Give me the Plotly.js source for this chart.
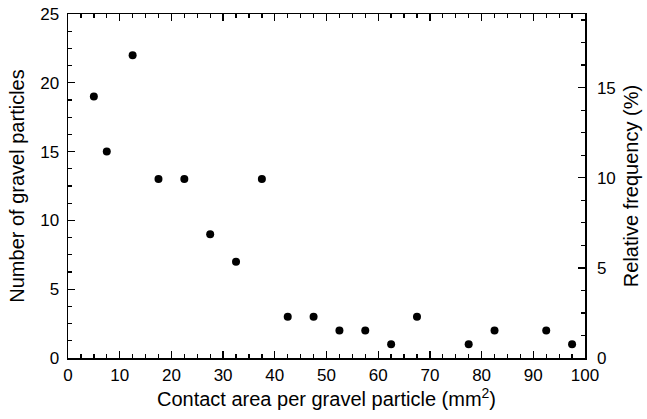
<!DOCTYPE html>
<html><head><meta charset="utf-8">
<script src="https://cdn.plot.ly/plotly-3.0.1.min.js"></script>
<style>html,body{margin:0;padding:0;background:#fff}#chart{width:647px;height:419px}</style>
</head><body><div id="chart"></div>
<script>
const contactArea = [5, 7.5, 12.5, 17.5, 22.5, 27.5, 32.5, 37.5, 42.5, 47.5, 52.5, 57.5, 62.5, 67.5, 77.5, 82.5, 92.5, 97.5];
const particleCount = [19, 15, 22, 13, 13, 9, 7, 13, 3, 3, 2, 2, 1, 3, 1, 2, 2, 1];
const xTickVals = [0, 10, 20, 30, 40, 50, 60, 70, 80, 90, 100];
const yTickVals = [0, 5, 10, 15, 20, 25];
const y2TickVals = [0, 5, 10, 15];

const total = particleCount.reduce((a, b) => a + b, 0);
const xMax = 100;
const yMax = 25;
const y2Max = yMax * 100 / total;

const fam = '"Liberation Sans", Arial, sans-serif';
const tickFont = {family: fam, size: 17, color: '#000'};
const titleFont = {family: fam, size: 20, color: '#000'};

const minorX = {dtick: 2.5, tick0: 0, ticks: 'inside', ticklen: 4, tickwidth: 1.3, tickcolor: '#000', showgrid: false};
const minorY = {dtick: 1.25, tick0: 0, ticks: 'inside', ticklen: 4, tickwidth: 1.3, tickcolor: '#000', showgrid: false};

const trace = {
  x: contactArea, y: particleCount, type: 'scatter', mode: 'markers',
  marker: {color: '#000', size: 8, symbol: 'circle'}, showlegend: false, cliponaxis: false
};
const dummy = {x: [0], y: [0], yaxis: 'y2', type: 'scatter', mode: 'markers',
  marker: {opacity: 0}, showlegend: false, hoverinfo: 'skip'};

const layout = {
  width: 647, height: 419,
  margin: {l: 68, r: 62, t: 14, b: 61},
  paper_bgcolor: '#fff', plot_bgcolor: '#fff',
  font: tickFont,
  xaxis: {
    range: [0, xMax], tickvals: xTickVals, ticks: 'inside', ticklen: 7, tickwidth: 1.3, tickcolor: '#000',
    showline: true, linecolor: '#000', linewidth: 1.5, mirror: 'ticks',
    showgrid: false, zeroline: false, tickfont: tickFont, ticklabelstandoff: 1, minor: minorX,
    title: {text: 'Contact area per gravel particle (mm<sup>2</sup>)', font: titleFont, standoff: 1}
  },
  yaxis: {
    range: [0, yMax], tickvals: yTickVals, ticks: 'inside', ticklen: 7, tickwidth: 1.3, tickcolor: '#000',
    showline: true, linecolor: '#000', linewidth: 1.5,
    showgrid: false, zeroline: false, tickfont: tickFont, ticklabelstandoff: 4, minor: minorY,
    title: {text: 'Number of gravel particles', font: titleFont, standoff: 10}
  },
  yaxis2: {
    overlaying: 'y', side: 'right', range: [0, y2Max], tickvals: y2TickVals,
    ticks: 'inside', ticklen: 7, tickwidth: 1.3, tickcolor: '#000',
    showline: true, linecolor: '#000', linewidth: 1.5,
    showgrid: false, zeroline: false, tickfont: tickFont, ticklabelstandoff: 7, minor: minorY,
    title: {text: 'Relative frequency (%)', font: titleFont, standoff: 9}
  }
};
Plotly.newPlot('chart', [trace, dummy], layout, {displayModeBar: false, staticPlot: true});
</script></body></html>
